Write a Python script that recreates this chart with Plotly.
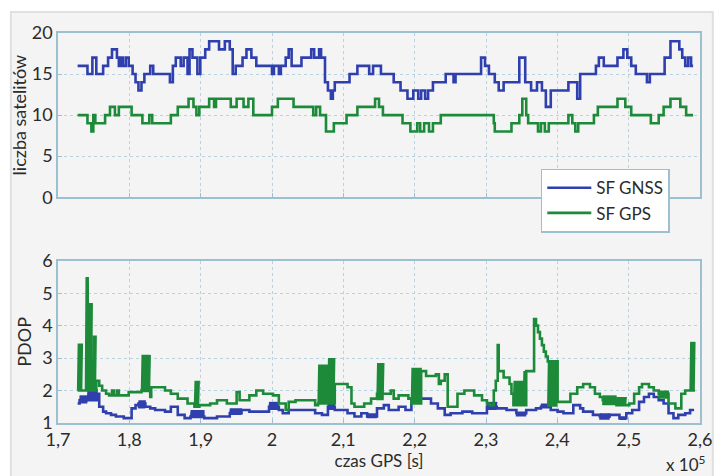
import plotly.graph_objects as go
from plotly.subplots import make_subplots

# ---------------- data (time in seconds of GPS week) ----------------
# number of satellites, SF GNSS (step change points)
sat_gnss_t = [172750, 174130, 174820, 175370, 176330, 177020, 177570, 178260, 178530, 178810,
              179080, 179490, 179910, 180460, 180870, 181280, 181700, 182110, 182930, 183350,
              185690, 186100, 186510, 187200, 187610, 188160, 188440, 188850, 189540, 189950,
              190640, 191190, 192570, 193390, 194080, 194490, 194910, 195870, 196420, 197110,
              197800, 200000, 200270, 200960, 201240, 201920, 202340, 202750, 204130, 205500,
              205910, 206600, 206880, 207430, 207840, 208250, 208530, 208800, 210870, 211970,
              213620, 214170, 215270, 217060, 218020, 218990, 219810, 220500, 220910, 221460,
              221880, 222560, 224350, 225450, 225730, 229310, 229860, 230410, 231230, 231780,
              232470, 234670, 235500, 236320, 237150, 237840, 238390, 239080, 241550, 242790,
              243200, 245410, 245820, 246510, 248430, 249260, 249810, 250360, 251000, 252560,
              252970, 255040, 255860, 257100, 257510, 257930, 258340, 258750, 259030]
sat_gnss_v = [16, 15, 17, 15, 16, 17, 18, 17, 16, 17,
              16, 17, 16, 15, 14, 13, 14, 15, 16, 15,
              14, 16, 17, 16, 17, 15, 18, 17, 15, 17,
              18, 19, 18, 19, 18, 15, 16, 17, 18, 17,
              16, 15, 16, 15, 16, 17, 18, 16, 17, 18,
              17, 18, 17, 14, 13, 12, 13, 14, 15, 16,
              15, 16, 15, 14, 13, 12, 13, 12, 13, 12,
              13, 14, 15, 14, 15, 17, 16, 15, 14, 13,
              14, 17, 14, 13, 14, 13, 11, 13, 14, 12,
              15, 16, 17, 16, 17, 18, 17, 16, 15, 14,
              15, 17, 19, 18, 17, 16, 17, 16, 16]

# number of satellites, SF GPS
sat_gps_t = [172750, 174130, 174680, 174950, 175230, 176600, 177290, 177980, 178530, 180320,
             181830, 182800, 183210, 185820, 186790, 188300, 188990, 189400, 189810, 191190,
             191880, 192150, 194220, 195040, 196010, 196690, 197380, 200000, 200820, 203020,
             205780, 206190, 206740, 207570, 208670, 210450, 211970, 214450, 215000, 215550,
             218300, 219400, 220360, 220770, 221330, 222010, 222560, 223660, 231090, 231230,
             233570, 234670, 235090, 235640, 235910, 237290, 237700, 238250, 238800, 241550,
             242100, 242520, 242930, 245130, 245680, 248430, 249530, 250360, 253110, 254210,
             254900, 255860, 257240, 258060, 259030]
sat_gps_v = [10, 9, 8, 10, 9, 10, 11, 10, 11, 10,
             9, 10, 9, 10, 11, 12, 11, 10, 11, 12,
             11, 12, 11, 12, 11, 12, 10, 11, 12, 11,
             10, 11, 10, 8, 9, 10, 11, 12, 11, 10,
             9, 8, 9, 8, 9, 8, 9, 10, 9, 8,
             9, 10, 12, 10, 9, 8, 9, 8, 9, 10,
             9, 8, 9, 10, 11, 12, 11, 10, 9, 10,
             11, 12, 11, 10, 10]

# PDOP, SF GNSS
pdop_gnss_t = [172750, 173030, 175500, 175780, 176330, 176740, 177430, 178120, 179220, 180320,
               180870, 181280, 182250, 182930, 183620, 185000, 185820, 186790, 187750, 188580,
               190500, 192290, 194080, 195730, 196830, 199580, 200960, 201510, 202340, 206050,
               207010, 207840, 208800, 210590, 211560, 212520, 213340, 214720, 215680, 216370,
               217750, 218710, 219540, 222290, 223250, 224210, 225040, 226690, 228070, 230130,
               231510, 232880, 234260, 235640, 237010, 237700, 239080, 240040, 240860, 242240,
               243200, 243620, 244990, 245960, 247330, 248710, 249670, 250500, 251460, 252150,
               252840, 253520, 254210, 254900, 255590, 256280, 256960, 257930, 258610, 259170]
pdop_gnss_v = [1.6, 1.7, 1.9, 1.5, 1.35, 1.3, 1.25, 1.2, 1.15, 1.45,
               1.55, 1.6, 1.5, 1.45, 1.4, 1.35, 1.5, 1.25, 1.15, 1.2,
               1.15, 1.2, 1.3, 1.4, 1.35, 1.5, 1.4, 1.3, 1.4, 1.3,
               1.25, 1.5, 1.4, 1.3, 1.2, 1.3, 1.2, 1.45, 1.55, 1.4,
               1.5, 1.4, 1.75, 1.6, 1.45, 1.25, 1.3, 1.35, 1.3, 1.5,
               1.45, 1.4, 1.3, 1.4, 1.45, 1.5, 1.4, 1.35, 1.3, 1.55,
               1.45, 1.35, 1.25, 1.2, 1.25, 1.15, 1.3, 1.4, 1.65, 1.8,
               1.9, 1.8, 1.7, 1.6, 1.3, 1.15, 1.25, 1.3, 1.4, 1.4]
# fast-oscillation intervals of SF GNSS PDOP: start, end, low, high
osc_gnss_t0 = [173030, 174130, 181280, 188580, 194080, 199580, 207840, 213340, 230130, 234260, 237700, 245960, 248710]
osc_gnss_t1 = [174130, 175500, 182250, 190500, 195730, 200960, 208800, 214720, 231510, 235640, 239080, 247330, 249670]
osc_gnss_lo = [1.6, 1.7, 1.45, 1.15, 1.25, 1.4, 1.4, 1.15, 1.4, 1.2, 1.45, 1.1, 1.1]
osc_gnss_hi = [1.85, 2.05, 1.7, 1.4, 1.45, 1.65, 1.7, 1.3, 1.65, 1.35, 1.6, 1.3, 1.2]

# PDOP, SF GPS
pdop_gps_t = [172750, 173440, 173850, 175370, 175780, 176190, 176740, 177160, 177570, 177840,
              178260, 178530, 179910, 181700, 182930, 183070, 185000, 185820, 186790, 188160,
              189130, 189810, 191330, 192290, 193670, 195040, 195460, 196830, 197800, 198760,
              200130, 200960, 201920, 202340, 203300, 206050, 206460, 208800, 210590, 211140,
              211560, 212930, 213890, 214720, 215680, 216650, 217060, 217750, 219120, 219540,
              220910, 221600, 222980, 223390, 223660, 224210, 224630, 226000, 226970, 228340,
              229440, 230130, 230540, 231090, 231370, 231640, 231780, 232470, 233300, 233570,
              233850, 235640, 236460, 236740, 237010, 237290, 237560, 237840, 238110, 238390,
              238660, 240040, 241830, 242790, 243620, 244580, 245270, 245960, 246370, 248290,
              250080, 250770, 251460, 251870, 252840, 253520, 254210, 255590, 256550, 257380,
              257930, 258610, 259300]
pdop_gps_v = [2.0, 2.0, 2.0, 2.3, 2.15, 2.0, 1.9, 1.85, 2.0, 1.85,
              2.0, 1.85, 1.95, 2.0, 1.8, 2.1, 2.0, 1.9, 1.75, 1.6,
              1.5, 1.55, 1.6, 1.7, 1.6, 1.95, 1.7, 1.85, 2.0, 1.9,
              1.85, 1.6, 1.4, 1.65, 1.7, 1.55, 1.6, 2.2, 2.1, 1.6,
              1.5, 1.6, 1.75, 1.9, 1.9, 2.0, 1.75, 1.85, 1.75, 1.6,
              2.6, 2.45, 2.5, 2.2, 2.3, 2.5, 1.5, 1.9, 2.0, 1.85,
              1.7, 1.6, 1.55, 2.0, 2.3, 3.4, 2.6, 2.4, 2.2, 1.9,
              1.55, 2.6, 2.6, 4.2, 4.0, 3.8, 3.6, 3.4, 3.2, 3.05,
              2.9, 1.65, 1.9, 2.1, 2.2, 2.1, 1.9, 1.8, 1.7, 1.55,
              1.6, 1.9, 2.1, 2.2, 2.1, 2.0, 1.9, 1.6, 1.45, 1.9,
              2.0, 2.0, 2.0]
osc_gps_t0 = [172750, 173850, 174270, 174820, 181700, 189130, 206460, 207840, 214720, 219540,
              233850, 235230, 238660, 246370, 248290, 254210, 258610]
osc_gps_t1 = [173440, 174270, 174820, 175370, 182930, 189810, 207840, 208800, 215680, 220910,
              235230, 235640, 240040, 248290, 249670, 255590, 259300]
osc_gps_lo = [2.0, 2.0, 2.0, 2.0, 1.95, 1.5, 1.6, 1.6, 1.7, 1.6,
              1.55, 1.55, 1.5, 1.55, 1.55, 1.75, 2.0]
osc_gps_hi = [3.45, 5.5, 4.7, 3.7, 3.1, 2.3, 2.8, 3.0, 2.85, 2.7,
              2.3, 2.6, 2.9, 1.85, 1.8, 2.0, 3.5]

x_tickvals = [170000, 180000, 190000, 200000, 210000, 220000, 230000, 240000, 250000, 260000]
x_ticktext = ["1,7", "1,8", "1,9", "2", "2,1", "2,2", "2,3", "2,4", "2,5", "2,6"]

BLUE = "#2f3fae"
GREEN = "#1d8a3a"
AXC = "#9cc0d0"
GRIDC = "#b8d3df"
TXT = "#2b2b2b"
FONT = "Lato"


def zigzag(t0s, t1s, los, his, step=35):
    xs, ys = [], []
    for a, b, lo, hi in zip(t0s, t1s, los, his):
        t = a
        k = 0
        while t <= b:
            xs.append(t)
            ys.append(hi if k % 2 else lo)
            t += step
            k += 1
        xs.append(None)
        ys.append(None)
    return xs, ys


fig = make_subplots(rows=2, cols=1, shared_xaxes=False, vertical_spacing=0.0)

fig.add_trace(go.Scatter(x=sat_gnss_t, y=sat_gnss_v, mode="lines", line=dict(color=BLUE, width=2.6, shape="hv"),
                         name="SF GNSS"), row=1, col=1)
fig.add_trace(go.Scatter(x=sat_gps_t, y=sat_gps_v, mode="lines", line=dict(color=GREEN, width=2.6, shape="hv"),
                         name="SF GPS"), row=1, col=1)

gx, gy = zigzag(osc_gnss_t0, osc_gnss_t1, osc_gnss_lo, osc_gnss_hi)
px_, py_ = zigzag(osc_gps_t0, osc_gps_t1, osc_gps_lo, osc_gps_hi)

fig.add_trace(go.Scatter(x=pdop_gnss_t, y=pdop_gnss_v, mode="lines", line=dict(color=BLUE, width=2.6, shape="hv"),
                         showlegend=False), row=2, col=1)
fig.add_trace(go.Scatter(x=gx, y=gy, mode="lines", line=dict(color=BLUE, width=1.5),
                         showlegend=False, connectgaps=False), row=2, col=1)
fig.add_trace(go.Scatter(x=pdop_gps_t, y=pdop_gps_v, mode="lines", line=dict(color=GREEN, width=2.6, shape="hv"),
                         showlegend=False), row=2, col=1)
fig.add_trace(go.Scatter(x=px_, y=py_, mode="lines", line=dict(color=GREEN, width=1.5),
                         showlegend=False, connectgaps=False), row=2, col=1)

axis_common = dict(showline=True, linecolor=AXC, linewidth=1.5, mirror=True,
                   showgrid=True, gridcolor=GRIDC, griddash="dot", gridwidth=1,
                   zeroline=False, ticks="inside", ticklen=4, tickcolor=AXC,
                   tickfont=dict(family=FONT, size=18, color=TXT))

fig.update_xaxes(range=[170000, 260000], tickvals=x_tickvals, ticktext=x_ticktext, **axis_common)
fig.update_xaxes(showticklabels=False, row=1, col=1)
fig.update_xaxes(title=dict(text="czas GPS [s]", font=dict(family=FONT, size=17, color=TXT), standoff=3), row=2, col=1)

fig.update_yaxes(range=[0, 20], tickvals=[0, 5, 10, 15, 20], **axis_common, row=1, col=1)
fig.update_yaxes(range=[1, 6], tickvals=[1, 2, 3, 4, 5, 6], **axis_common, row=2, col=1)
fig.update_yaxes(title=dict(text="liczba satelitów", font=dict(family=FONT, size=18, color=TXT), standoff=0), row=1, col=1)
fig.update_yaxes(title=dict(text="PDOP", font=dict(family=FONT, size=18, color=TXT), standoff=6), row=2, col=1)

fig.update_layout(
    width=723, height=476,
    margin=dict(l=58, r=11, t=33, b=51),
    paper_bgcolor="white",
    plot_bgcolor="white",
    font=dict(family=FONT, color=TXT),
    yaxis=dict(domain=[0.579, 1.0]),
    yaxis2=dict(domain=[0.0, 0.416]),
    legend=dict(x=0.752, y=0.652, xanchor="left", yanchor="top",
                bgcolor="white", bordercolor=AXC, borderwidth=1.5,
                font=dict(family=FONT, size=17, color=TXT),
                tracegroupgap=0, itemwidth=44),
    shapes=[dict(type="rect", xref="paper", yref="paper", x0=-0.0734, x1=1.02, y0=-0.14, y1=1.0536,
                 fillcolor="#f4f4f4", line=dict(color="#e0e0e0", width=2), layer="below")],
    annotations=[dict(text="x 10<sup>5</sup>", xref="paper", yref="paper", x=1.012, y=-0.105,
                      xanchor="right", yanchor="middle", showarrow=False,
                      font=dict(family=FONT, size=17, color=TXT))],
)

fig.write_html("out.html")
